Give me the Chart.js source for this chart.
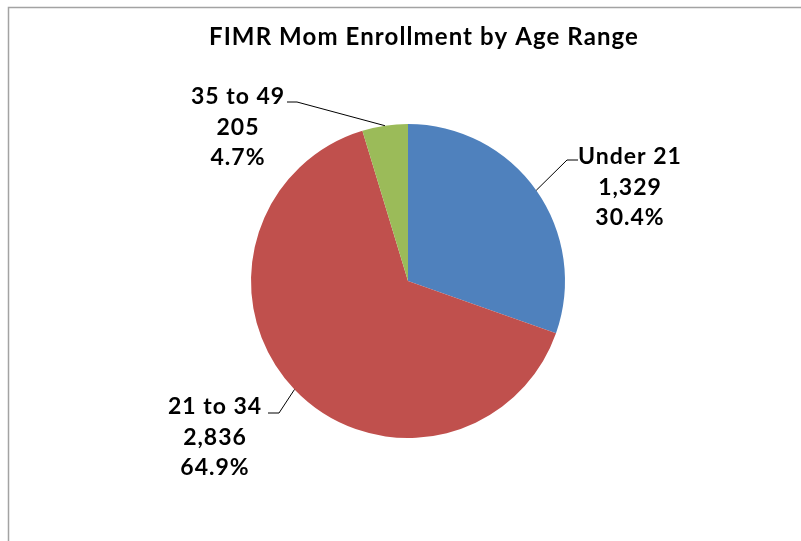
<!DOCTYPE html>
<html>
<head>
<meta charset="utf-8">
<script src="https://cdn.jsdelivr.net/npm/chart.js@4.4.1/dist/chart.umd.min.js"></script>
<style>
  html, body { margin: 0; padding: 0; background: #fff; }
  #wrap { position: relative; width: 801px; height: 541px; }
</style>
</head>
<body>
<div id="wrap"><canvas id="chart" width="801" height="541"></canvas></div>
<script>
// Enrollment counts by mother's age range
const titleText = 'FIMR Mom Enrollment by Age Range';
const ageRanges = ['Under 21', '21 to 34', '35 to 49'];
const enrollment = [1329, 2836, 205];
const sliceColors = ['#4F81BD', '#C0504D', '#9BBB59'];

const FONT = 'Lato, "Open Sans", sans-serif';

// Where each callout sits: text centre (first line), and the elbow of its leader line
const callouts = [
  { cx: 630, cy: 157, elbow: [567, 160], end: [578, 160] },
  { cx: 215, cy: 407, elbow: [279, 413], end: [268, 413] },
  { cx: 238, cy: 97,  elbow: [297, 102], end: [287, 102] }
];

const frameAndTitle = {
  id: 'frameAndTitle',
  beforeDraw(chart) {
    const ctx = chart.ctx;
    ctx.save();
    ctx.strokeStyle = '#a3a3a3';
    ctx.lineWidth = 1.5;
    ctx.beginPath();
    ctx.moveTo(8.5, 541);
    ctx.lineTo(8.5, 7.5);
    ctx.lineTo(801, 7.5);
    ctx.stroke();
    ctx.restore();
  },
  afterDraw(chart) {
    const ctx = chart.ctx;
    ctx.save();
    ctx.fillStyle = '#000';
    ctx.font = 'bold 24px ' + FONT;
    ctx.letterSpacing = '1.1px';
    ctx.textAlign = 'center';
    ctx.textBaseline = 'middle';
    ctx.fillText(titleText, 424, 37);
    ctx.restore();
  }
};

const calloutLabels = {
  id: 'calloutLabels',
  afterDatasetsDraw(chart) {
    const ctx = chart.ctx;
    const meta = chart.getDatasetMeta(0);
    const data = chart.data.datasets[0].data;
    const total = data.reduce((a, b) => a + b, 0);
    ctx.save();
    meta.data.forEach((arc, i) => {
      const c = callouts[i];
      const p = arc.getProps(['x', 'y', 'startAngle', 'endAngle', 'outerRadius'], true);
      const mid = (p.startAngle + p.endAngle) / 2;
      const ax = p.x + Math.cos(mid) * p.outerRadius;
      const ay = p.y + Math.sin(mid) * p.outerRadius;
      ctx.strokeStyle = '#000';
      ctx.lineWidth = 1;
      ctx.beginPath();
      ctx.moveTo(ax, ay);
      ctx.lineTo(c.elbow[0], c.elbow[1]);
      ctx.lineTo(c.end[0], c.end[1]);
      ctx.stroke();

      const lines = [
        chart.data.labels[i],
        data[i].toLocaleString('en-US'),
        (data[i] / total * 100).toFixed(1) + '%'
      ];
      ctx.fillStyle = '#000';
      ctx.font = 'bold 23px ' + FONT;
      ctx.letterSpacing = '1px';
      ctx.textAlign = 'center';
      ctx.textBaseline = 'middle';
      lines.forEach((t, k) => ctx.fillText(t, c.cx, c.cy + k * 30.5));
    });
    ctx.restore();
  }
};

new Chart(document.getElementById('chart'), {
  type: 'pie',
  data: {
    labels: ageRanges,
    datasets: [{
      data: enrollment,
      backgroundColor: sliceColors,
      borderWidth: 0,
      hoverOffset: 0,
      offset: 0
    }]
  },
  options: {
    responsive: false,
    animation: false,
    events: [],
    layout: { padding: { top: 124, bottom: 103, left: 100, right: 85 } },
    plugins: {
      legend: { display: false },
      title: { display: false },
      tooltip: { enabled: false }
    }
  },
  plugins: [frameAndTitle, calloutLabels]
});
</script>
</body>
</html>
